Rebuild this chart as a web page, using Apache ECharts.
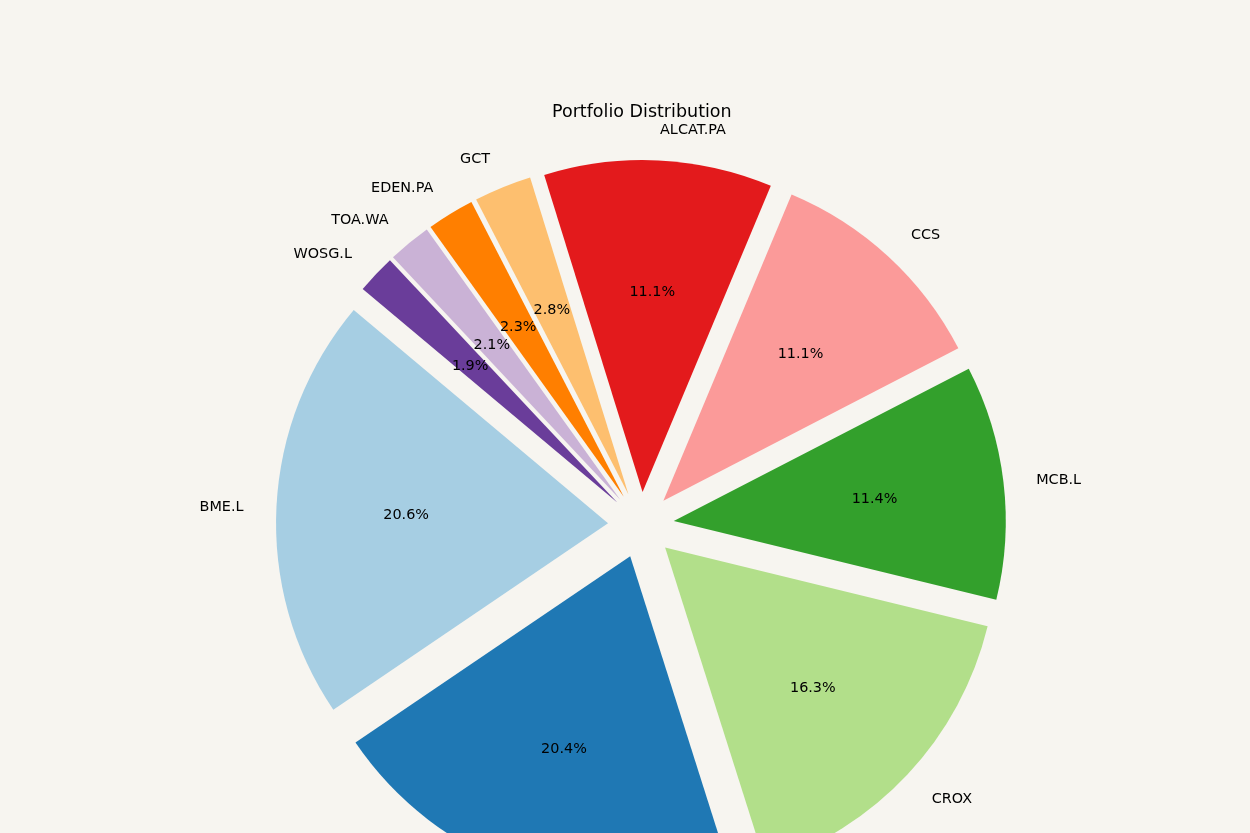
<!DOCTYPE html>
<html lang="en">
<head>
    <meta charset="UTF-8">
    <title>Portfolio Distribution</title>
    <script src="https://cdn.jsdelivr.net/npm/echarts@6/dist/echarts.min.js" charset="utf-8"></script>
    <style>
        html, body { margin: 0; padding: 0; background: #f7f5f0; }
        #main { width: 1250px; height: 833px; }
    </style>
</head>
<body>
<div id="main"></div>
<script>
    // holdings and their share of the portfolio (%)
    var tickers = ['BME.L', '', 'CROX', 'MCB.L', 'CCS', 'ALCAT.PA', 'GCT', 'EDEN.PA', 'TOA.WA', 'WOSG.L'];
    var shares = [20.6, 20.4, 16.3, 11.4, 11.1, 11.1, 2.8, 2.3, 2.1, 1.9];
    var colors = ['#a6cee3', '#1f78b4', '#b2df8a', '#33a02c', '#fb9a99', '#e31a1c', '#fdbf6f', '#ff7f00', '#cab2d6', '#6a3d9a'];

    var R = 332;
    var CENTER = [641, 525];
    var EXPLODE = 33;

    var wedgeData = [], pctData = [];
    for (var i = 0; i < shares.length; i++) {
        wedgeData.push({ name: tickers[i], value: shares[i], selected: true, itemStyle: { color: colors[i] } });
        pctData.push({ name: tickers[i], value: shares[i], selected: true });
    }

    // same text style for every label, nudged down a little
    var labelRich = {
        t: {
            fontFamily: 'DejaVu Sans',
            fontSize: 14.4,
            color: '#000',
            padding: [5, 0, 0, 0]
        }
    };

    var myChart = echarts.init(document.getElementById('main'));
    var option = {
        backgroundColor: '#f7f5f0',
        animation: false,
        title: {
            text: 'Portfolio Distribution',
            left: 552,
            top: 103,
            padding: 0,
            textStyle: {
                fontFamily: 'DejaVu Sans',
                fontWeight: 'normal',
                fontSize: 17.5,
                color: '#000'
            }
        },
        series: [{
            // wedges + ticker labels
            type: 'pie',
            center: CENTER,
            radius: [0, R],
            startAngle: 140,
            clockwise: false,
            avoidLabelOverlap: false,
            selectedMode: 'multiple',
            selectedOffset: EXPLODE,
            silent: true,
            emphasis: { disabled: true },
            label: {
                show: true,
                position: 'outside',
                formatter: function (p) { return p.name ? '{t|' + p.name + '}' : ''; },
                rich: labelRich,
                distanceToLabelLine: 0
            },
            labelLine: { show: false, length: EXPLODE, length2: 0 },
            itemStyle: { borderWidth: 0 },
            data: wedgeData
        }, {
            // transparent copy, so "inside" labels sit at 0.6 R
            type: 'pie',
            center: CENTER,
            radius: [0, R * 1.2],
            startAngle: 140,
            clockwise: false,
            avoidLabelOverlap: false,
            selectedMode: 'multiple',
            selectedOffset: EXPLODE,
            silent: true,
            emphasis: { disabled: true },
            label: {
                show: true,
                position: 'inside',
                formatter: function (p) { return '{t|' + p.value.toFixed(1) + '%}'; },
                rich: labelRich
            },
            labelLine: { show: false },
            itemStyle: { color: 'rgba(0,0,0,0)', borderWidth: 0 },
            data: pctData
        }]
    };

    myChart.setOption(option);
    window.addEventListener("resize", function () {
        myChart.resize();
    });
</script>
</body>
</html>
